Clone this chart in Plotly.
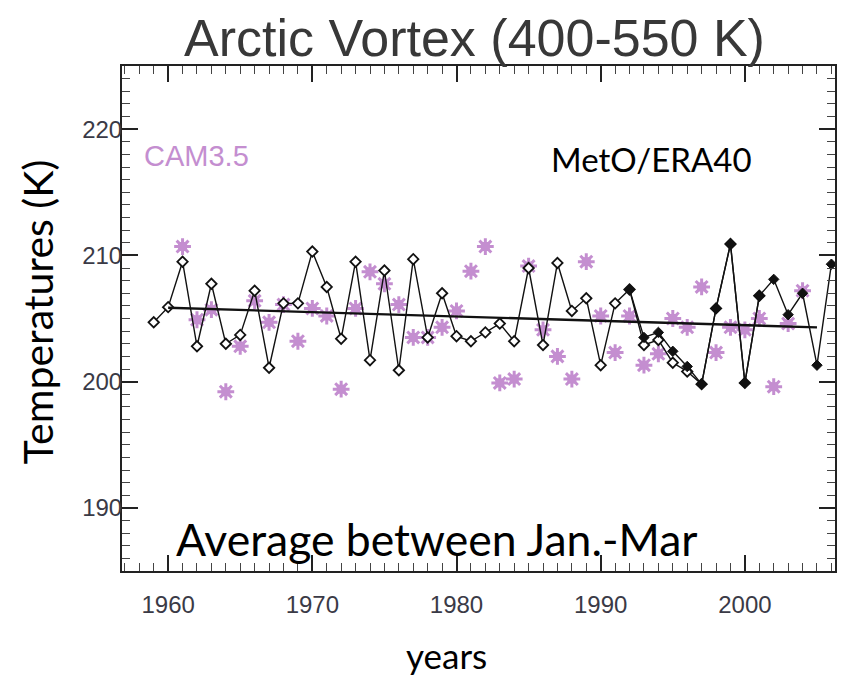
import plotly.graph_objects as go

# ERA40 reanalysis, Jan-Mar mean vortex temperature (K)
era_years = list(range(1959, 2002))
era_temps = [204.7, 205.9, 209.5, 202.8, 207.75, 203.0, 203.7, 207.2, 201.1, 206.2,
             206.2, 210.3, 207.5, 203.4, 209.5, 201.7, 208.8, 200.9, 209.7, 203.5,
             207.0, 203.6, 203.2, 203.9, 204.6, 203.2, 209.0, 202.9, 209.4, 205.6,
             206.6, 201.3, 206.2, 207.3, 202.9, 203.3, 201.5, 200.8, 199.8, 205.8,
             210.9, 199.9, 206.8]

# Met Office analyses
meto_years = list(range(1992, 2007))
meto_temps = [207.3, 203.5, 203.9, 202.4, 201.2, 199.8, 205.8, 210.9, 199.9, 206.8,
              208.1, 205.3, 207.0, 201.3, 209.3]

# CAM3.5 model run
cam_years = list(range(1961, 2005))
cam_temps = [210.7, 204.9, 205.7, 199.2, 202.8, 206.4, 204.7, 206.1, 203.2, 205.8,
             205.2, 199.4, 205.8, 208.7, 207.75, 206.1, 203.5, 203.5, 204.3, 205.6,
             208.75, 210.7, 199.9, 200.2, 209.15, 204.1, 202.0, 200.2, 209.5, 205.2,
             202.3, 205.2, 201.3, 202.2, 205.0, 204.3, 207.5, 202.3, 204.3, 204.1,
             205.0, 199.6, 204.6, 207.2]

# Linear trend of the observations
trend_years = [1960, 2005]
trend_temps = [205.85, 204.3]

x_ticks = [1960, 1970, 1980, 1990, 2000]
y_ticks = [190, 200, 210, 220]

PINK = "#c48ed0"
AXIS = "#222222"
SANS = "Liberation Sans, Arial, sans-serif"
TICKFONT = dict(family=SANS, size=24, color="#3a3a46")
BODY = "Lato, Open Sans, sans-serif"

fig = go.Figure()

fig.add_trace(go.Scatter(
    x=cam_years, y=cam_temps, mode="markers", name="CAM3.5",
    marker=dict(symbol="square", size=9, color=PINK, line=dict(width=0)),
    hoverinfo="x+y"))
fig.add_trace(go.Scatter(
    x=cam_years, y=cam_temps, mode="markers", showlegend=False,
    marker=dict(symbol="asterisk-open", size=14, color=PINK,
                line=dict(width=3, color=PINK)),
    hoverinfo="skip"))

fig.add_trace(go.Scatter(
    x=era_years, y=era_temps, mode="lines+markers", name="ERA40",
    line=dict(color="#111111", width=1.4),
    marker=dict(symbol="diamond", size=8, color="white",
                line=dict(width=1.8, color="#111111"))))
fig.add_trace(go.Scatter(
    x=meto_years, y=meto_temps, mode="lines+markers", name="MetO",
    line=dict(color="#111111", width=1.4),
    marker=dict(symbol="diamond", size=8, color="#111111",
                line=dict(width=1, color="#111111"))))

fig.add_trace(go.Scatter(
    x=trend_years, y=trend_temps, mode="lines", name="trend",
    line=dict(color="#111111", width=2.4)))

axis_common = dict(
    showline=True, linewidth=2, linecolor=AXIS, mirror="allticks",
    ticks="inside", ticklen=16, tickwidth=1.5, tickcolor=AXIS,
    showgrid=False, zeroline=False, tickfont=TICKFONT,
)

fig.update_xaxes(
    range=[1956.8, 2006.25], tickvals=x_ticks,
    minor=dict(dtick=1, tick0=1960, ticks="inside", ticklen=8,
               tickwidth=1.2, tickcolor="#444444", showgrid=False),
    ticklabelstandoff=11,
    **axis_common)
fig.update_yaxes(
    range=[185, 225], tickvals=y_ticks,
    minor=dict(dtick=1, tick0=190, ticks="inside", ticklen=8,
               tickwidth=1.2, tickcolor="#444444", showgrid=False),
    ticklabelstandoff=-7,
    **axis_common)

annotations = [
    dict(text="Arctic Vortex (400-550 K)", xref="paper", yref="paper",
         x=0.495, y=1.056, xanchor="center", yanchor="middle", showarrow=False,
         font=dict(family=SANS, size=52, color="#383838")),
    dict(text="CAM3.5", xref="x", yref="y", x=1958.2, y=217.9,
         xanchor="left", yanchor="middle", showarrow=False,
         font=dict(family=SANS, size=29, color=PINK)),
    dict(text="MetO/ERA40", xref="x", yref="y", x=1986.4, y=217.6,
         xanchor="left", yanchor="middle", showarrow=False,
         font=dict(family=BODY, size=33, color="black")),
    dict(text="Average between Jan.-Mar", xref="x", yref="y", x=1960.4, y=187.6,
         xanchor="left", yanchor="middle", showarrow=False,
         font=dict(family=BODY, size=44.5, color="black")),
    dict(text="Temperatures (K)", xref="paper", yref="paper", x=-0.1175, y=0.513,
         xanchor="center", yanchor="middle", textangle=-90, showarrow=False,
         font=dict(family=BODY, size=41, color="black")),
    dict(text="years", xref="paper", yref="paper", x=0.455, y=-0.166,
         xanchor="center", yanchor="middle", showarrow=False,
         font=dict(family=BODY, size=35, color="black")),
]

fig.update_layout(
    width=846, height=677,
    margin=dict(l=122, r=9, t=66, b=106),
    paper_bgcolor="white", plot_bgcolor="white",
    showlegend=False,
    annotations=annotations,
)

fig.write_html("out.html")
